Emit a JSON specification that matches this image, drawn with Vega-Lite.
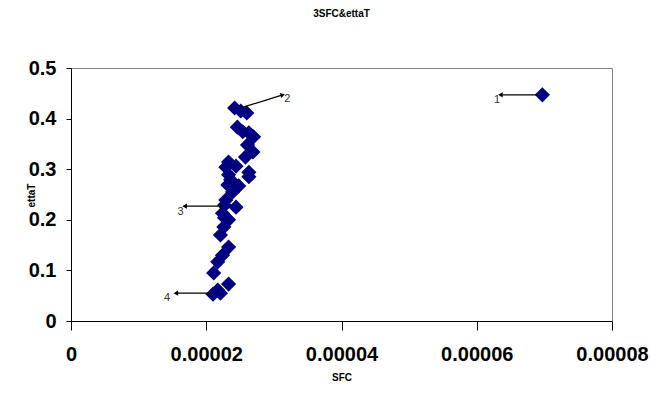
{
  "$schema": "https://vega.github.io/schema/vega-lite/v6.json",
  "width": 541,
  "height": 253,
  "autosize": "none",
  "padding": {"left": 71, "top": 68, "right": 38, "bottom": 75},
  "background": "white",
  "title": {"text": "3SFC&ettaT", "fontSize": 10, "font": "Liberation Sans", "fontWeight": "bold", "color": "black", "anchor": "middle", "offset": 39},
  "config": {
    "view": {"stroke": "#808080", "strokeWidth": 1},
    "axis": {"grid": false}
  },
  "datasets": {
    "pts": [
      {"SFC": 0.0000697, "ettaT": 0.447},
      {"SFC": 0.0000242, "ettaT": 0.421},
      {"SFC": 0.0000251, "ettaT": 0.415},
      {"SFC": 0.0000260, "ettaT": 0.411},
      {"SFC": 0.0000246, "ettaT": 0.383},
      {"SFC": 0.0000254, "ettaT": 0.374},
      {"SFC": 0.0000263, "ettaT": 0.372},
      {"SFC": 0.0000270, "ettaT": 0.364},
      {"SFC": 0.0000261, "ettaT": 0.348},
      {"SFC": 0.0000269, "ettaT": 0.334},
      {"SFC": 0.0000258, "ettaT": 0.324},
      {"SFC": 0.0000233, "ettaT": 0.314},
      {"SFC": 0.0000229, "ettaT": 0.304},
      {"SFC": 0.0000244, "ettaT": 0.306},
      {"SFC": 0.0000263, "ettaT": 0.294},
      {"SFC": 0.0000263, "ettaT": 0.285},
      {"SFC": 0.0000233, "ettaT": 0.289},
      {"SFC": 0.0000236, "ettaT": 0.279},
      {"SFC": 0.0000232, "ettaT": 0.269},
      {"SFC": 0.0000248, "ettaT": 0.267},
      {"SFC": 0.0000239, "ettaT": 0.255},
      {"SFC": 0.0000229, "ettaT": 0.239},
      {"SFC": 0.0000227, "ettaT": 0.229},
      {"SFC": 0.0000244, "ettaT": 0.225},
      {"SFC": 0.0000224, "ettaT": 0.213},
      {"SFC": 0.0000227, "ettaT": 0.204},
      {"SFC": 0.0000233, "ettaT": 0.200},
      {"SFC": 0.0000226, "ettaT": 0.186},
      {"SFC": 0.0000221, "ettaT": 0.170},
      {"SFC": 0.0000233, "ettaT": 0.146},
      {"SFC": 0.0000224, "ettaT": 0.130},
      {"SFC": 0.0000217, "ettaT": 0.117},
      {"SFC": 0.0000211, "ettaT": 0.095},
      {"SFC": 0.0000233, "ettaT": 0.073},
      {"SFC": 0.0000217, "ettaT": 0.061},
      {"SFC": 0.0000210, "ettaT": 0.053},
      {"SFC": 0.0000221, "ettaT": 0.055}
    ],
    "arrows": [
      {"label": "1", "x": 0.0000689, "y": 0.447, "x2": 0.0000635, "y2": 0.447, "lx": 0.0000630, "ly": 0.437},
      {"label": "2", "x": 0.0000251, "y": 0.421, "x2": 0.0000313, "y2": 0.447, "lx": 0.0000320, "ly": 0.439},
      {"label": "3", "x": 0.0000224, "y": 0.227, "x2": 0.0000168, "y2": 0.227, "lx": 0.0000162, "ly": 0.215},
      {"label": "4", "x": 0.0000208, "y": 0.055, "x2": 0.0000155, "y2": 0.055, "lx": 0.0000142, "ly": 0.045}
    ]
  },
  "layer": [
    {
      "data": {"name": "pts"},
      "mark": {"type": "point", "shape": "diamond", "filled": true, "size": 230, "color": "#000080", "opacity": 1},
      "encoding": {
        "x": {
          "field": "SFC", "type": "quantitative",
          "scale": {"domain": [0, 0.00008], "nice": false, "zero": true},
          "axis": {
            "values": [0, 0.00002, 0.00004, 0.00006, 0.00008],
            "format": ".5~f",
            "labelFont": "Liberation Sans", "labelFontSize": 20, "labelFontWeight": "bold", "labelColor": "black",
            "domainColor": "black", "tickColor": "black", "tickSize": 9, "labelPadding": 14,
            "labelFlush": false, "labelOverlap": false,
            "title": "SFC", "titleFont": "Liberation Sans", "titleFontSize": 10, "titleFontWeight": "bold", "titleColor": "black", "titlePadding": 8
          }
        },
        "y": {
          "field": "ettaT", "type": "quantitative",
          "scale": {"domain": [0, 0.5], "nice": false},
          "axis": {
            "values": [0, 0.1, 0.2, 0.3, 0.4, 0.5],
            "format": ".1~f",
            "labelFont": "Liberation Sans", "labelFontSize": 20, "labelFontWeight": "bold", "labelColor": "black",
            "domainColor": "black", "tickColor": "black", "tickSize": 5, "labelPadding": 10,
            "labelFlush": false, "labelOverlap": false,
            "title": "ettaT", "titleFont": "Liberation Sans", "titleFontSize": 10, "titleFontWeight": "bold", "titleColor": "black",
            "titleX": -40, "titleY": 127, "titleAngle": 270, "titleAlign": "center", "titleBaseline": "middle"
          }
        }
      }
    },
    {
      "data": {"name": "arrows"},
      "mark": {"type": "rule", "color": "black", "strokeWidth": 1.3},
      "encoding": {
        "x": {"field": "x", "type": "quantitative"},
        "y": {"field": "y", "type": "quantitative"},
        "x2": {"field": "x2"},
        "y2": {"field": "y2"}
      }
    },
    {
      "data": {"name": "arrows"},
      "transform": [{"filter": "datum.label != '2'"}],
      "mark": {"type": "point", "shape": "triangle-left", "filled": true, "size": 28, "color": "black", "opacity": 1},
      "encoding": {
        "x": {"field": "x2", "type": "quantitative"},
        "y": {"field": "y2", "type": "quantitative"}
      }
    },
    {
      "data": {"name": "arrows"},
      "transform": [{"filter": "datum.label == '2'"}],
      "mark": {"type": "point", "shape": "triangle-right", "filled": true, "size": 28, "color": "black", "opacity": 1, "angle": 343},
      "encoding": {
        "x": {"field": "x2", "type": "quantitative"},
        "y": {"field": "y2", "type": "quantitative"}
      }
    },
    {
      "data": {"name": "arrows"},
      "mark": {"type": "text", "font": "Liberation Sans", "fontSize": 11, "color": "#333333", "align": "center", "baseline": "middle"},
      "encoding": {
        "x": {"field": "lx", "type": "quantitative"},
        "y": {"field": "ly", "type": "quantitative"},
        "text": {"field": "label"}
      }
    }
  ]
}
